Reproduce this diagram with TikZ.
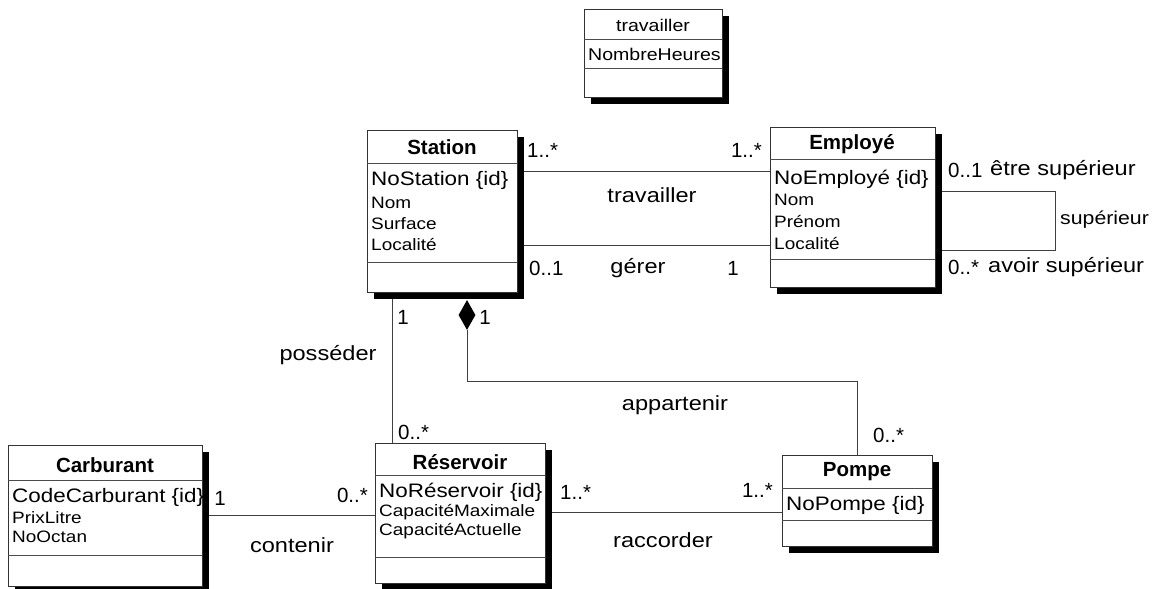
\documentclass[tikz,border=0pt]{standalone}
\usepackage{fontspec}
\setmainfont{Liberation Sans}
\newfontfamily\stfont{Liberation Sans}[FakeStretch=1.15]
\usetikzlibrary{fit,shapes.geometric,backgrounds}

\tikzset{
  classbox/.style={draw=black!80, line width=0.7pt, fill=white, inner sep=0pt},
  divline/.style={draw=black!70, line width=0.6pt},
  conn/.style={draw=black!75, line width=0.7pt},
  assoclink/.style={conn, dash pattern=on 3pt off 2pt},
  ctitle/.style={font=\fontsize{20.5}{22}\selectfont\bfseries, inner sep=0pt},
  atitle/.style={font=\stfont\fontsize{17}{20}\selectfont, inner sep=0pt},
  idattr/.style={font=\stfont\fontsize{19.5}{22}\selectfont, anchor=west, inner sep=0pt},
  attr/.style={font=\stfont\fontsize{16.5}{19}\selectfont, anchor=west, inner sep=0pt},
  lbl/.style={font=\stfont\fontsize{20.5}{22}\selectfont, inner sep=0pt},
  mult/.style={font=\fontsize{20.5}{22}\selectfont, inner sep=0pt},
  compo/.style={diamond, fill=black, inner sep=0pt, minimum width=17pt, minimum height=30pt},
}

\newcommand\umlbox[7]{%
  \fill[black] (#2+7,#3+7) rectangle (#4+7,#5+7);
  \node[classbox, fit={(#2,#3) (#4,#5)}] (#1) {};
  \draw[divline] (#2,#6) -- (#4,#6);
  \draw[divline] (#2,#7) -- (#4,#7);
}

\begin{document}
\begin{tikzpicture}[x=1pt,y=-1pt]
\useasboundingbox (0,0) rectangle (1154,589);

% ---------- classes ----------
\umlbox{assoc}{584}{9}{722}{97}{39}{68}
\node[atitle] (assocT) at (653,25) {travailler};
\node[atitle, anchor=west] (assocA) at (588,54) {NombreHeures};

\umlbox{station}{367}{130}{517}{292}{163}{262}
\node[ctitle] (stationT) at (442,147) {Station};
\node[idattr] (stationA1) at (371,180) {NoStation \{id\}};
\node[attr] (stationA2) at (371,203) {Nom};
\node[attr] (stationA3) at (371,224) {Surface};
\node[attr] (stationA4) at (371,245) {Localité};

\umlbox{employe}{770}{127}{935}{287}{159}{259}
\node[ctitle] (employeT) at (852,144) {Employé};
\node[idattr] (employeA1) at (774,179) {NoEmployé \{id\}};
\node[attr] (employeA2) at (774,200) {Nom};
\node[attr] (employeA3) at (774,222) {Prénom};
\node[attr] (employeA4) at (774,244) {Localité};

\umlbox{carburant}{8}{445}{202}{586}{480}{555}
\node[ctitle] (carburantT) at (105,465) {Carburant};
\node[idattr] (carburantA1) at (12,497) {CodeCarburant \{id\}};
\node[attr] (carburantA2) at (12,518) {PrixLitre};
\node[attr] (carburantA3) at (12,537) {NoOctan};

\umlbox{reservoir}{375}{443}{545}{583}{475}{557}
\node[ctitle] (reservoirT) at (460,462) {Réservoir};
\node[idattr] (reservoirA1) at (379,492) {NoRéservoir \{id\}};
\node[attr] (reservoirA2) at (379,512) {CapacitéMaximale};
\node[attr] (reservoirA3) at (379,531) {CapacitéActuelle};

\umlbox{pompe}{782}{455}{932}{546}{488}{520}
\node[ctitle] (pompeT) at (857,472) {Pompe};
\node[idattr] (pompeA1) at (786,505) {NoPompe \{id\}};

\node[compo] (comp) at (467,315) {};

% ---------- connectors ----------
\coordinate (loopR) at (1055,220);
\begin{scope}[on background layer]
\draw[conn] (station.east |- 0,171) -- (employe.west |- 0,171);
\draw[assoclink] (assoc.south -| 643,0) -- (assoc.south -| 643,171);
\draw[conn] (station.east |- 0,245) -- (employe.west |- 0,245);
\draw[conn] (employe.east |- 0,191) -| (loopR) |- (employe.east |- 0,250);
\draw[conn] (station.south -| 392,0) -- (reservoir.north -| 392,0);
\draw[conn] (comp.south) |- (pompe.north |- 0,381) -- (pompe.north);
\draw[conn] (carburant.east |- 0,515) -- (reservoir.west |- 0,515);
\draw[conn] (reservoir.east |- 0,512) -- (pompe.west |- 0,512);
\end{scope}

% ---------- labels ----------
\node[mult, anchor=west] (m1) at (527,150) {1..*};
\node[mult, anchor=east] (m2) at (762,150) {1..*};
\node[lbl] (l1) at (652,195) {travailler};
\node[mult, anchor=west] (m3) at (529,268) {0..1};
\node[lbl] (l2) at (638,268) {gérer};
\node[mult] (m4) at (733,268) {1};
\node[mult, anchor=west] (m5) at (948,170) {0..1};
\node[lbl, anchor=west] (r1) at (990,170) {être supérieur};
\node[lbl, anchor=west, font=\stfont\fontsize{18.5}{20}\selectfont] (l3) at (1060,220) {supérieur};
\node[mult, anchor=west] (m6) at (948,267) {0..*};
\node[lbl, anchor=west] (r2) at (988,267) {avoir supérieur};
\node[mult] (m7) at (403,317) {1};
\node[mult] (m8) at (485,317) {1};
\node[lbl] (l4) at (328,355) {posséder};
\node[mult, anchor=west] (m9) at (398,432) {0..*};
\node[lbl] (l5) at (675,405) {appartenir};
\node[mult, anchor=west] (m10) at (873,435) {0..*};
\node[mult] (m11) at (220,498) {1};
\node[mult, anchor=east] (m12) at (368,495) {0..*};
\node[lbl] (l6) at (292,545) {contenir};
\node[mult, anchor=west] (m13) at (560,492) {1..*};
\node[mult, anchor=east] (m14) at (773,490) {1..*};
\node[lbl] (l7) at (663,540) {raccorder};
\end{tikzpicture}
\end{document}
